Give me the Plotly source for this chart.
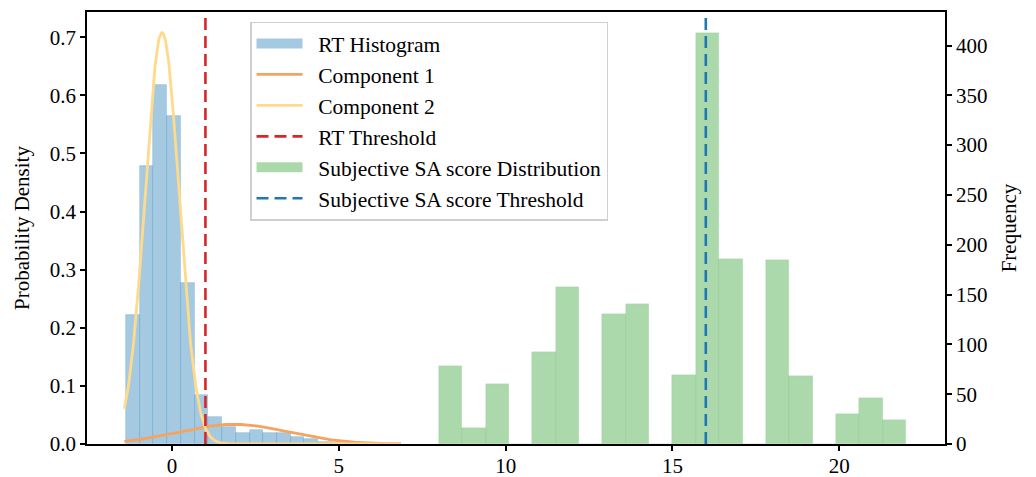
import numpy as np
import plotly.graph_objects as go

# ---- RT histogram (density), 20 bins ----
rt_bin_start = -1.38
rt_bin_width = 0.4115
rt_density = [0.222, 0.478, 0.617, 0.564, 0.277, 0.084, 0.046, 0.029, 0.019, 0.024,
              0.019, 0.019, 0.0115, 0.008, 0.004, 0.002, 0.001, 0.001, 0.0, 0.001]

# ---- GMM components (weight, mean, sd) ----
comp_names = ["Component 1", "Component 2"]
comp_weights = [0.14, 0.905]
comp_means = [1.85, -0.30]
comp_sds = [1.65, 0.51]
curve_x_min = -1.43
curve_x_max = 6.85

# ---- thresholds ----
rt_threshold = 1.0
sa_threshold = 16.0

# ---- Subjective SA score histogram (counts), 20 bins ----
sa_bin_start = 8.0
sa_bin_width = 0.7
sa_counts = [78, 16, 60, 0, 92, 158, 0, 130, 141, 0,
             69, 413, 186, 0, 185, 68, 0, 30, 46, 24]

x_ticks = [0, 5, 10, 15, 20]
y1_ticks = [0.0, 0.1, 0.2, 0.3, 0.4, 0.5, 0.6, 0.7]
y2_ticks = [0, 50, 100, 150, 200, 250, 300, 350, 400]

FONT = "Liberation Serif, Times New Roman, serif"
FS = 21
LFS = 21.5
PAD = "\u00a0\u00a0"

rt_centers = rt_bin_start + rt_bin_width * (np.arange(len(rt_density)) + 0.5)
sa_centers = sa_bin_start + sa_bin_width * (np.arange(len(sa_counts)) + 0.5)

xs = np.linspace(curve_x_min, curve_x_max, 500)
curves = []
for w, m, s in zip(comp_weights, comp_means, comp_sds):
    curves.append(w / (s * np.sqrt(2 * np.pi)) * np.exp(-0.5 * ((xs - m) / s) ** 2))

y1_max = max(max(rt_density), max(c.max() for c in curves)) * 1.05
y2_max = max(sa_counts) * 1.05
x_lo, x_hi = -2.55, 23.17

BLUE_FILL = "rgba(31,119,180,0.4)"
GREEN_FILL = "rgba(44,160,44,0.4)"

fig = go.Figure()
# RT histogram bars + legend proxy (wide patch)
fig.add_trace(go.Bar(
    x=rt_centers, y=rt_density, width=rt_bin_width, name="RT Histogram", showlegend=False,
    marker=dict(color=BLUE_FILL, line=dict(color="rgba(31,119,180,0.22)", width=0.8)),
    yaxis="y"))
fig.add_trace(go.Scatter(x=[None], y=[None], mode="lines", name=PAD + "RT Histogram",
                         line=dict(color=BLUE_FILL, width=16), yaxis="y"))
comp_colors = ["#F4A460", "#FFDA8A"]
for name, c, col in zip(comp_names, curves, comp_colors):
    fig.add_trace(go.Scatter(x=xs, y=c, mode="lines", name=PAD + name,
                             line=dict(color=col, width=2.8), yaxis="y"))
fig.add_trace(go.Scatter(x=[rt_threshold, rt_threshold], y=[0, y1_max], mode="lines",
                         name=PAD + "RT Threshold",
                         line=dict(color="#d62728", width=2.6, dash="12px,6px"), yaxis="y"))
fig.add_trace(go.Scatter(x=[None], y=[None], mode="lines",
                         name=PAD + "Subjective SA score Distribution",
                         line=dict(color=GREEN_FILL, width=16), yaxis="y"))
fig.add_trace(go.Bar(
    x=sa_centers, y=sa_counts, width=sa_bin_width, name="Subjective SA score Distribution",
    showlegend=False,
    marker=dict(color=GREEN_FILL, line=dict(color="rgba(44,160,44,0.12)", width=0.6)),
    yaxis="y2"))
fig.add_trace(go.Scatter(x=[sa_threshold, sa_threshold], y=[0, y2_max], mode="lines",
                         name=PAD + "Subjective SA score Threshold",
                         line=dict(color="#1f77b4", width=2.6, dash="12px,6px"), yaxis="y2"))

axis_common = dict(showline=True, linecolor="black", linewidth=1.5, ticks="outside",
                   ticklen=5, tickwidth=1.5, tickcolor="black", showgrid=False, zeroline=False,
                   automargin=False,
                   tickfont=dict(family=FONT, size=FS, color="black"))

fig.update_layout(
    width=1036, height=477,
    margin=dict(l=87, r=91, t=12, b=33, autoexpand=False),
    paper_bgcolor="white", plot_bgcolor="white",
    barmode="overlay", bargap=0,
    font=dict(family=FONT, size=FS, color="black"),
    xaxis=dict(range=[x_lo, x_hi], tickvals=x_ticks, mirror=True, ticklabelstandoff=-3,
               **axis_common),
    yaxis=dict(range=[0, y1_max], tickvals=y1_ticks, tickformat=".1f",
               title=dict(text="Probability Density", font=dict(family=FONT, size=FS), standoff=14),
               **axis_common),
    yaxis2=dict(range=[0, y2_max], tickvals=y2_ticks, overlaying="y", side="right",
                title=dict(text="Frequency", font=dict(family=FONT, size=FS), standoff=15),
                **axis_common),
    legend=dict(x=0.19, y=0.978, xanchor="left", yanchor="top",
                bgcolor="rgba(255,255,255,0.85)", bordercolor="#cfcfcf", borderwidth=1.5,
                font=dict(family=FONT, size=LFS, color="black"), itemwidth=46,
                traceorder="normal"),
    showlegend=True,
)

fig.write_html("out.html", config={"displayModeBar": False},
               post_script="document.body.style.margin='0';document.body.style.overflow='hidden';")
